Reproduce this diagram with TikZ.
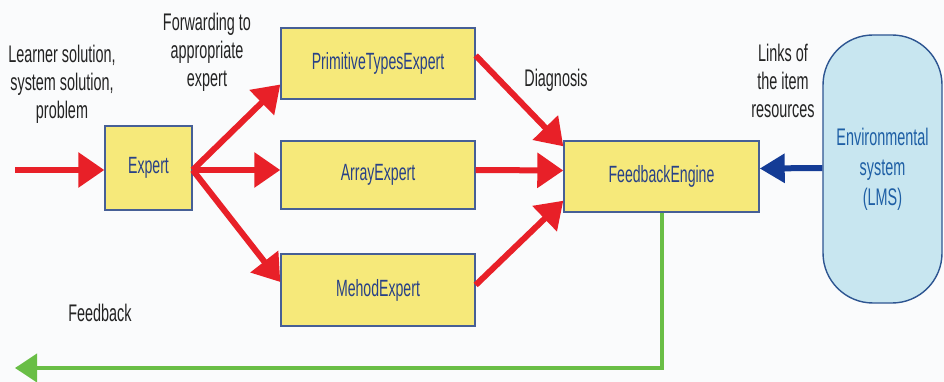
\documentclass[tikz,border=0pt]{standalone}
\usepackage{fontspec}
\setmainfont{Liberation Sans}[FakeStretch=0.6]
\usetikzlibrary{arrows.meta,calc}
\definecolor{bg}{RGB}{250,251,252}
\definecolor{boxfill}{RGB}{246,233,122}
\definecolor{boxline}{RGB}{70,95,150}
\definecolor{boxtext}{RGB}{40,65,135}
\definecolor{redarrow}{RGB}{232,32,40}
\definecolor{bluearrow}{RGB}{20,60,150}
\definecolor{greenline}{RGB}{105,190,70}
\definecolor{envfill}{RGB}{200,230,240}
\definecolor{envline}{RGB}{45,85,145}
\definecolor{envtext}{RGB}{30,95,165}
\definecolor{labeltext}{RGB}{35,35,35}
\tikzset{
  expertbox/.style={draw=boxline, line width=1.4pt, fill=boxfill, text=boxtext,
    font=\fontsize{23.5}{28}\selectfont, inner sep=0pt},
  lbl/.style={text=labeltext, align=center, font=\fontsize{24}{28}\selectfont, inner sep=0pt},
  redarr/.style={draw=redarrow, line width=6pt, -{Triangle[length=26pt,width=34pt]}},
  bluearr/.style={draw=bluearrow, line width=6pt, -{Triangle[length=25pt,width=28pt]}},
  greenarr/.style={draw=greenline, line width=4pt, -{Triangle[length=22pt,width=28pt]}},
}
\begin{document}
\begin{tikzpicture}[x=1pt,y=-1pt]
\useasboundingbox[fill=bg] (0,0) rectangle (944,382);
% boxes
\node[expertbox, minimum width=87pt, minimum height=84pt] (expert) at (148.5,168) {Expert};
\node[expertbox, minimum width=194pt, minimum height=71pt] (pte) at (378,63.5) {PrimitiveTypesExpert};
\node[expertbox, minimum width=194pt, minimum height=68pt] (arr) at (378,175) {ArrayExpert};
\node[expertbox, minimum width=194pt, minimum height=72pt] (meh) at (378,290) {MehodExpert};
\node[expertbox, minimum width=195pt, minimum height=71pt] (fe) at (661.5,176.5) {FeedbackEngine};
\node[draw=envline, line width=1.4pt, fill=envfill, rounded corners=50pt,
  minimum width=119pt, minimum height=268pt, text=envtext, align=center,
  font=\fontsize{24}{30}\selectfont, inner sep=0pt] (env) at (882.5,169) {Environmental\\system\\(LMS)};
% labels
\node[lbl] (lin) at (62,84) {Learner solution,\\system solution,\\problem};
\node[lbl] (lfw) at (207,52) {Forwarding to\\appropriate\\expert};
\node[lbl] (ldg) at (556,80) {Diagnosis};
\node[lbl] (llk) at (783,81) {Links of\\the item\\resources};
\node[lbl] (lfb) at (100,313) {Feedback};
% connectors
\coordinate (src) at (15,170);
\coordinate (fbend) at (15,368);
\draw[redarr] (src) -- ([yshift=-2pt]expert.west);
\draw[redarr] ([yshift=-2pt]expert.east) -- ([yshift=-21pt]pte.west);
\draw[redarr] ([yshift=-2pt]expert.east) -- ([yshift=5pt]arr.west);
\draw[redarr] ([yshift=-2pt]expert.east) -- ([yshift=8pt]meh.west);
\draw[redarr] ([yshift=8pt]pte.east) -- ([yshift=-6pt]fe.north west);
\draw[redarr] ([yshift=5pt]arr.east) -- ([yshift=6pt]fe.west);
\draw[redarr] ([yshift=5pt]meh.east) -- ([yshift=12pt]fe.south west);
\draw[bluearr] ([yshift=1pt]env.west) -- ([yshift=8pt]fe.east);
\draw[greenarr] (fe.south) |- (fbend);
\end{tikzpicture}
\end{document}
